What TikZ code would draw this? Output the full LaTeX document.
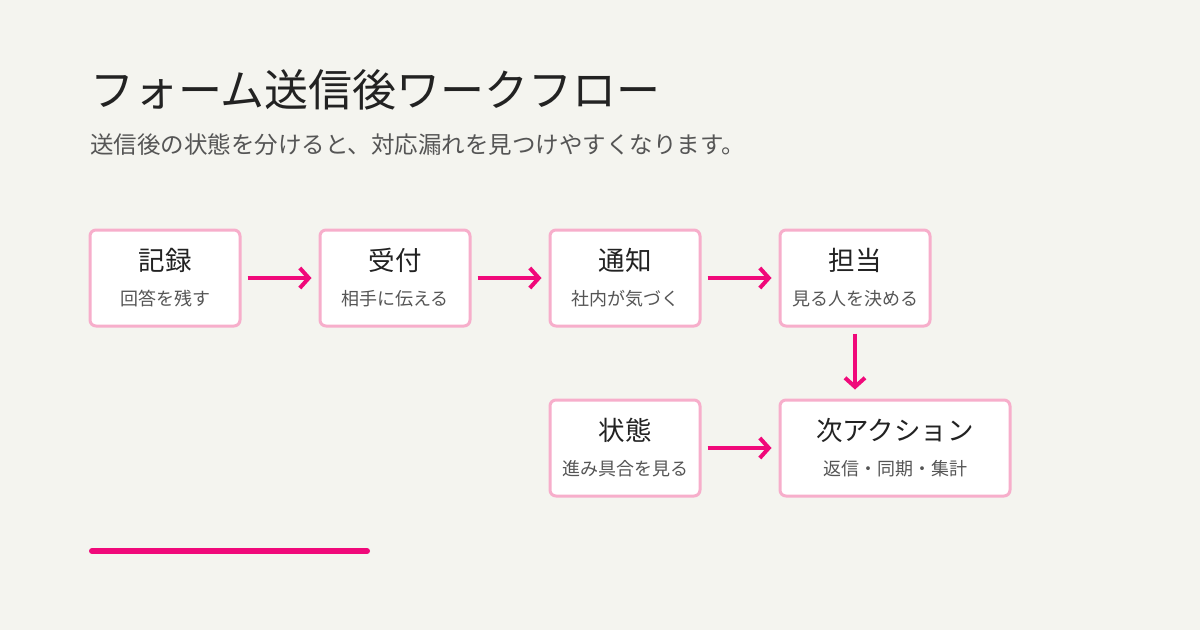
\documentclass[tikz,border=0pt]{standalone}
\usepackage{fontspec}
\setmainfont{Noto Sans CJK JP}
\usetikzlibrary{arrows.meta}
\definecolor{bg}{HTML}{F4F4EF}
\definecolor{pk}{HTML}{F0097A}
\definecolor{pkl}{HTML}{F7AECB}
\definecolor{tx}{HTML}{222222}
\definecolor{sub}{HTML}{555555}
\begin{document}
\begin{tikzpicture}[x=1pt,y=-1pt,
 box/.style={draw=pkl,line width=3pt,fill=white,rounded corners=6pt,minimum height=96pt,inner sep=0pt},
 arr/.style={draw=pk,line width=4pt,-{Straight Barb[length=9pt,width=20pt,line width=4pt]}},
 ttl/.style={font=\fontsize{26.5}{30}\selectfont,text=tx},
 sbt/.style={font=\fontsize{18}{21}\selectfont,text=sub}]
\fill[bg] (0,0) rectangle (1200,630);
\useasboundingbox (0,0) rectangle (1200,630);
\node[anchor=west,text=tx,font=\fontsize{44}{50}\selectfont,inner sep=0pt] (title) at (90,90) {フォーム送信後ワークフロー};
\node[anchor=west,text=sub,font=\fontsize{23.5}{27}\selectfont,inner sep=0pt] (st) at (90,145) {送信後の状態を分けると、対応漏れを見つけやすくなります。};
\newcommand{\mybox}[5]{%
 \node[box,minimum width=#3] (#1) at (#2) {};
 \node[ttl] (#1t) at ([yshift=18pt]#1.center) {#4};
 \node[sbt] (#1s) at ([yshift=-21pt]#1.center) {#5};}
\mybox{a}{165,278}{150pt}{記録}{回答を残す}
\mybox{b}{395,278}{150pt}{受付}{相手に伝える}
\mybox{c}{625,278}{150pt}{通知}{社内が気づく}
\mybox{d}{855,278}{150pt}{担当}{見る人を決める}
\mybox{e}{625,448}{150pt}{状態}{進み具合を見る}
\mybox{f}{895,448}{230pt}{次アクション}{返信・同期・集計}
\draw[arr] ([xshift=6pt]a.east) -- ([xshift=-7pt]b.west);
\draw[arr] ([xshift=6pt]b.east) -- ([xshift=-7pt]c.west);
\draw[arr] ([xshift=6pt]c.east) -- ([xshift=-7pt]d.west);
\draw[arr] ([yshift=-6pt]d.south) -- ([yshift=9pt]d.south |- f.north);
\draw[arr] ([xshift=6pt]e.east) -- ([xshift=-7pt]f.west);
\coordinate (l1) at (92,551); \coordinate (l2) at (367,551);
\draw[pk,line width=6pt,line cap=round] (l1) -- (l2);
\end{tikzpicture}
\end{document}
